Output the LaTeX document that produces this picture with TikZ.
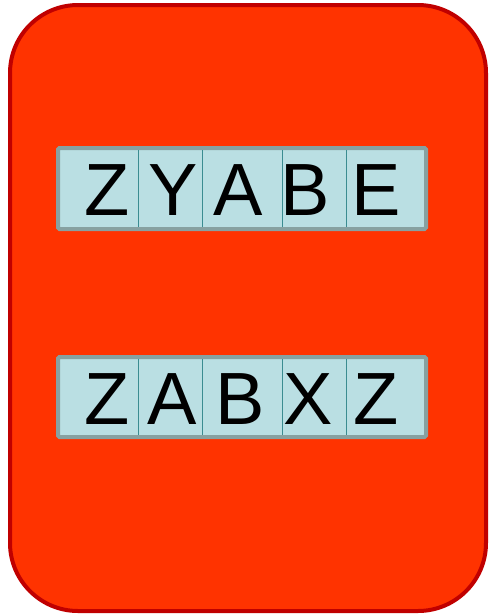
\documentclass[tikz,border=0pt]{standalone}
\usepackage{fontspec}
\setmainfont{Liberation Sans}
\usepackage{tikz}

\definecolor{cardred}{HTML}{FF3300}
\definecolor{cardedge}{HTML}{C00000}
\definecolor{cellfill}{HTML}{BADFE3}
\definecolor{celledge}{HTML}{87A1A1}
\definecolor{cellline}{HTML}{3B8C91}

\begin{document}
\begin{tikzpicture}[
	x=1pt, y=-1pt,
	card/.style={draw=cardedge, fill=cardred, line width=4pt, rounded corners=68pt},
	word/.style={draw=celledge, fill=cellfill, line width=4pt, rounded corners=1.5pt},
	sep/.style={draw=cellline, line width=1pt},
	letter/.style={anchor=base, inner sep=0pt, font=\fontsize{74}{74}\selectfont}
	]
	\useasboundingbox (0,0) rectangle (490,616);
	\draw[card] (10,5) rectangle (486,611);

	% first word
	\draw[word] (58,148) rectangle (426,229);
	\foreach \x in {138,202,282,346}
		\draw[sep] (\x,150) -- (\x,227);
	\node[letter] (z1) at (107,215) {Z};
	\node[letter] (y1) at (173,215) {Y};
	\node[letter] (a1) at (238,215) {A};
	\node[letter] (b1) at (305,215) {B};
	\node[letter] (e1) at (376,215) {E};

	% second word
	\draw[word] (58,357) rectangle (426,437);
	\foreach \x in {138,202,282,346}
		\draw[sep] (\x,359) -- (\x,435);
	\node[letter] (z2) at (107,424) {Z};
	\node[letter] (a2) at (172,424) {A};
	\node[letter] (b2) at (240,424) {B};
	\node[letter] (x2) at (308,424) {X};
	\node[letter] (z3) at (376,424) {Z};
\end{tikzpicture}
\end{document}
